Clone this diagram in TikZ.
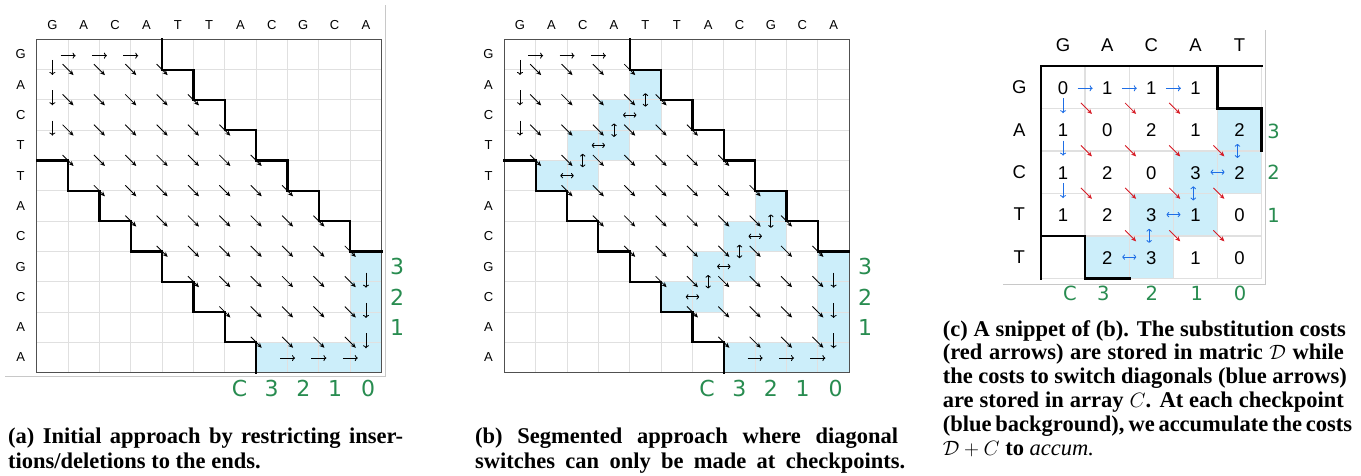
\documentclass[tikz,border=0pt]{standalone}
\usepackage{fontspec}
\setmainfont{Liberation Serif}
\newfontfamily\labfont{Liberation Sans}
\newfontfamily\grnfont{DejaVu Sans}
\usetikzlibrary{arrows.meta}
\definecolor{grn}{RGB}{40,140,80}
\definecolor{cpfill}{RGB}{204,238,250}
\definecolor{gridc}{RGB}{224,224,224}
\definecolor{bordc}{RGB}{80,80,80}
\definecolor{framec}{RGB}{200,200,200}
\definecolor{barr}{RGB}{30,110,230}
\definecolor{rarr}{RGB}{215,30,40}
\newcommand\setpanel[4]{\def\pox{#1}\def\poy{#2}\def\pcw{#3}\def\prh{#4}}
\newcommand\mkH[3]{\draw[#1] ({\pox+(#2)*\pcw-\hl},{\poy+(#3)*\prh}) -- ({\pox+(#2)*\pcw+\hl},{\poy+(#3)*\prh});}
\newcommand\mkV[3]{\draw[#1] ({\pox+(#2)*\pcw},{\poy+(#3)*\prh-\hl}) -- ({\pox+(#2)*\pcw},{\poy+(#3)*\prh+\hl});}
\newcommand\mkD[3]{\draw[#1] ({\pox+(#2)*\pcw-\dl},{\poy+(#3)*\prh-\dl}) -- ({\pox+(#2)*\pcw+\dl},{\poy+(#3)*\prh+\dl});}
\begin{document}
\begin{tikzpicture}[x=1pt,y=-1pt,
  gridline/.style={draw=gridc, line width=1pt},
  border/.style={draw=bordc, line width=1.2pt},
  stair/.style={draw=black, line width=2.2pt, line join=miter, line cap=rect},
  frameline/.style={draw=framec, line width=1pt},
  harr/.style={-{To[length=3pt,width=6pt]}, line width=0.85pt},
  darr/.style={-{Stealth[length=5pt,width=4.5pt]}, line width=0.85pt},
  dbl/.style={{To[length=2.8pt,width=5.4pt]}-{To[length=2.8pt,width=5.4pt]}, line width=0.85pt},
  bh/.style={harr, draw=barr},
  bd/.style={dbl, draw=barr},
  rd/.style={darr, draw=rarr, fill=rarr},
  lab/.style={font=\labfont\fontsize{13}{13}\selectfont, inner sep=0pt},
  clab/.style={font=\labfont\fontsize{18.5}{18.5}\selectfont, inner sep=0pt},
  glab/.style={font=\grnfont\fontsize{22}{22}\selectfont, text=grn, inner sep=0pt},
  gclab/.style={font=\grnfont\fontsize{19.5}{19.5}\selectfont, text=grn, inner sep=0pt},
  captext/.style={font=\fontsize{22.5}{24}\selectfont\bfseries, inner sep=0pt, anchor=base west}]
\useasboundingbox (0,0) rectangle (1361,475);
\fill[white] (0,0) rectangle (1361,475);
\def\cw{31.36}\def\rh{30.3}\def\oya{39.3}\def\oxa{36.7}\def\oxb{504.3}
\def\cwc{44.14}\def\rhc{42.46}\def\oxc{1041}\def\oyc{66}
\foreach \c in {0,...,11}{\foreach \r in {0,...,11}{
  \coordinate (a-\c-\r) at ({\oxa+\c*\cw},{\oya+\r*\rh});
  \coordinate (b-\c-\r) at ({\oxb+\c*\cw},{\oya+\r*\rh});
}}
\foreach \c in {0,...,5}{\foreach \r in {0,...,5}{
  \coordinate (c-\c-\r) at ({\oxc+\c*\cwc},{\oyc+\r*\rhc});
}}
% ---------- fills
\fill[cpfill] (a-10-7) rectangle (a-11-11);
\fill[cpfill] (a-7-10) rectangle (a-11-11);
\fill[cpfill] (b-10-7) rectangle (b-11-11);
\fill[cpfill] (b-7-10) rectangle (b-11-11);
\foreach \r/\c in {1/4,2/3,2/4,3/2,3/3,4/1,4/2,5/8,6/7,6/8,7/6,7/7,8/5,8/6}{
  \pgfmathtruncatemacro\cc{\c+1}\pgfmathtruncatemacro\rr{\r+1}
  \fill[cpfill] (b-\c-\r) rectangle (b-\cc-\rr);
}
\foreach \r/\c in {1/4,2/3,2/4,3/2,3/3,4/1,4/2}{
  \pgfmathtruncatemacro\cc{\c+1}\pgfmathtruncatemacro\rr{\r+1}
  \fill[cpfill] (c-\c-\r) rectangle (c-\cc-\rr);
}
% ---------- grids
\foreach \i in {1,...,10}{
  \draw[gridline] (a-\i-0) -- (a-\i-11); \draw[gridline] (a-0-\i) -- (a-11-\i);
  \draw[gridline] (b-\i-0) -- (b-\i-11); \draw[gridline] (b-0-\i) -- (b-11-\i);
}
\foreach \i in {1,...,5}{
  \draw[gridline, line width=1.5pt] (c-\i-0) -- (c-\i-5); \draw[gridline, line width=1.5pt] (c-0-\i) -- (c-5-\i);
}
\draw[border] (a-0-0) rectangle (a-11-11);
\draw[border] (b-0-0) rectangle (b-11-11);
% ---------- staircases
\foreach \p in {a,b}{
  \draw[stair] (\p-4-0) -- (\p-4-1) -- (\p-5-1) -- (\p-5-2) -- (\p-6-2) -- (\p-6-3) -- (\p-7-3) -- (\p-7-4) -- (\p-8-4) -- (\p-8-5) -- (\p-9-5) -- (\p-9-6) -- (\p-10-6) -- (\p-10-7) -- (\p-11-7);
  \draw[stair] (\p-0-4) -- (\p-1-4) -- (\p-1-5) -- (\p-2-5) -- (\p-2-6) -- (\p-3-6) -- (\p-3-7) -- (\p-4-7) -- (\p-4-8) -- (\p-5-8) -- (\p-5-9) -- (\p-6-9) -- (\p-6-10) -- (\p-7-10) -- (\p-7-11);
}
\draw[stair, line width=2.5pt] (c-0-5) -- (c-0-0) -- (c-5-0);
\draw[stair, line width=2.5pt] (c-4-0) -- (c-4-1) -- (c-5-1) -- (c-5-2);
\draw[stair, line width=2.5pt] (c-0-4) -- (c-1-4) -- (c-1-5) -- (c-2-5);
% ---------- arrows (a) and (b)
\def\hl{7.5}\def\dl{5.5}
\foreach \ox in {\oxa,\oxb}{
  \setpanel{\ox}{\oya}{\cw}{\rh}
  \foreach \r in {1,...,10}{
    \pgfmathtruncatemacro\cmin{max(1,\r-3)}
    \pgfmathtruncatemacro\cmax{min(10,\r+3)}
    \foreach \c in {\cmin,...,\cmax}{\mkD{darr}{\c}{\r}}
  }
  \foreach \c in {1,2,3}{\mkH{harr}{\c}{0.54}}
  \foreach \c in {8,9,10}{\mkH{harr}{\c}{10.52}}
  \foreach \r in {1,2,3}{\mkV{harr}{0.5}{\r-0.07}}
  \foreach \r in {8,9,10}{\mkV{harr}{10.5}{\r-0.05}}
}
\def\hl{6.7}
\setpanel{\oxb}{\oya}{\cw}{\rh}
\foreach \c/\r in {4/2,3/3,2/4,8/6,7/7,6/8}{
  \mkV{dbl}{\c+0.5}{\r}
  \mkH{dbl}{\c}{\r+0.5}
}
% ---------- arrows (c)
\setpanel{\oxc}{\oyc}{\cwc}{\rhc}
\def\hl{7.5}\def\dl{5.5}
\foreach \c in {1,2,3}{\mkH{bh}{\c}{0.525}}
\foreach \r in {1,2,3}{\mkV{bh}{0.5}{\r-0.065}}
\foreach \c/\r in {1/1,2/1,3/1,1/2,2/2,3/2,4/2,1/3,2/3,3/3,4/3,2/4,3/4,4/4}{\mkD{rd}{\c+0.03}{\r}}
\def\hl{7}
\foreach \c/\r in {4/2,3/3,2/4}{
  \mkV{bd}{\c+0.45}{\r}
  \mkH{bd}{\c}{\r+0.5}
}
% ---------- labels (a),(b)
\foreach \l [count=\i from 0] in {G,A,C,A,T,T,A,C,G,C,A}{
  \node[lab] (acol\i) at ({\oxa+(\i+0.5)*\cw},24.7) {\l};
  \node[lab] (bcol\i) at ({\oxb+(\i+0.5)*\cw},24.7) {\l};
}
\foreach \l [count=\i from 0] in {G,A,C,T,T,A,C,G,C,A,A}{
  \node[lab] (arow\i) at (20.7,{\oya+(\i+0.5)*\rh}) {\l};
  \node[lab] (brow\i) at (488.5,{\oya+(\i+0.5)*\rh}) {\l};
}
% ---------- labels (c)
\foreach \l [count=\i from 0] in {G,A,C,A,T}{
  \node[clab] (ccol\i) at ({\oxc+(\i+0.5)*\cwc},45) {\l};
}
\foreach \l [count=\i from 0] in {G,A,C,T,T}{
  \node[clab] (crow\i) at (1019.3,{\oyc+(\i+0.5)*\rhc}) {\l};
}
\foreach \r/\c/\v in {0/0/0,0/1/1,0/2/1,0/3/1,1/0/1,1/1/0,1/2/2,1/3/1,1/4/2,2/0/1,2/1/2,2/2/0,2/3/3,2/4/2,3/0/1,3/1/2,3/2/3,3/3/1,3/4/0,4/1/2,4/2/3,4/3/1,4/4/0}{
  \node[clab] (n\r\c) at ({\oxc+(\c+0.5)*\cwc},{\oyc+(\r+0.5)*\rhc+0.8}) {\v};
}
% ---------- green labels
\foreach \v/\y [count=\i] in {3/266.5,2/297,1/327.8}{
  \node[glab] (ga\i) at (397,\y) {\v};
  \node[glab] (gb\i) at (865,\y) {\v};
}
\foreach \v/\x [count=\i] in {C/239.5,3/271.7,2/303.3,1/335,0/368}{
  \node[glab] (gab\i) at (\x,388) {\v};
  \node[glab] (gbb\i) at (\x+467.6,388) {\v};
}
\foreach \v/\y [count=\i] in {3/131.7,2/172.3,1/215}{
  \node[gclab] (gc\i) at (1273.5,\y) {\v};
}
\foreach \v/\x [count=\i] in {C/1070,3/1103.3,2/1151.7,1/1196.7,0/1240}{
  \node[gclab] (gcb\i) at (\x,293.3) {\v};
}
% ---------- frames
\draw[frameline] (5,376.5) -- (385,376.5) -- (385,5);
\draw[frameline] (1003,284) -- (1265,284) -- (1265,30);
% ---------- captions
\node[captext] (capa1) at (8,443) {\makebox[395pt][s]{(a) Initial approach by restricting inser-}};
\node[captext] (capa2) at (8,468.3) {tions/deletions to the ends.};
\node[captext] (capb1) at (475,443) {\makebox[423pt][s]{(b) Segmented approach where diagonal}};
\node[captext] (capb2) at (475,468.3) {\makebox[430pt][s]{switches can only be made at checkpoints.}};
\node[captext] (capc1) at (942.7,336) {\makebox[403pt][s]{(c) A snippet of (b). The substitution costs}};
\node[captext] (capc2) at (942.7,359.8) {\makebox[401pt][s]{(red arrows) are stored in matric $\mathcal{D}$ while}};
\node[captext] (capc3) at (942.7,383.6) {\makebox[404pt][s]{the costs to switch diagonals (blue arrows)}};
\node[captext] (capc4) at (942.7,407.4) {\makebox[401pt][s]{are stored in array $C$. At each checkpoint}};
\node[captext] (capc5) at (942.7,431.2) {\makebox[402pt][s]{(blue background), we accumulate the costs}};
\node[captext] (capc6) at (942.7,455) {$\mathcal{D}+C$ to \textnormal{\itshape accum.}};
\end{tikzpicture}
\end{document}
